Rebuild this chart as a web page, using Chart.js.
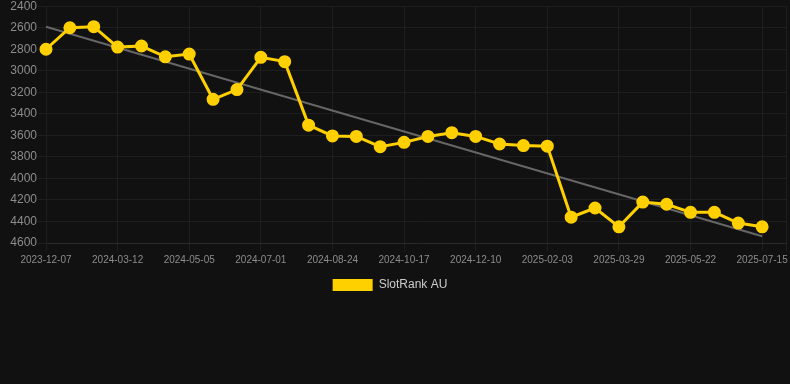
<!DOCTYPE html>
<html>
<head>
<meta charset="utf-8">
<script src="https://cdn.jsdelivr.net/npm/chart.js@4.4.0/dist/chart.umd.min.js"></script>
<style>
    body { margin: 0; background: #111111; overflow: hidden; }
    .chart-box { width: 794px; height: 303px; margin-top: -2px; }
</style>
</head>
<body>
<div class="chart-box"><canvas id="rankChart"></canvas></div>
<script>
const dates = [
    '2023-12-07', '2024-01-08', '2024-02-09', '2024-03-12', '2024-03-30', '2024-04-17',
    '2024-05-05', '2024-05-24', '2024-06-12', '2024-07-01', '2024-07-19', '2024-08-06',
    '2024-08-24', '2024-09-11', '2024-09-29', '2024-10-17', '2024-11-04', '2024-11-22',
    '2024-12-10', '2024-12-28', '2025-01-16', '2025-02-03', '2025-02-21', '2025-03-11',
    '2025-03-29', '2025-04-16', '2025-05-04', '2025-05-22', '2025-06-09', '2025-06-27',
    '2025-07-15', '2025-08-02'
];

const rankAU = [
    2800, 2600, 2590, 2780, 2770, 2870, 2845, 3265, 3175, 2875, 2915,
    3505, 3605, 3610, 3705, 3665, 3610, 3575, 3610, 3680, 3695, 3700,
    4360, 4275, 4450, 4220, 4240, 4315, 4315, 4415, 4450, null
];

const yTicks = { min: 2400, max: 4600, step: 200 };

// least squares trend over the known points
function trendLine(values) {
    const pts = values.map((v, i) => [i, v]).filter(p => p[1] !== null);
    const n = pts.length;
    let sx = 0, sy = 0, sxy = 0, sxx = 0;
    pts.forEach(([x, y]) => { sx += x; sy += y; sxy += x * y; sxx += x * x; });
    const slope = (n * sxy - sx * sy) / (n * sxx - sx * sx);
    const icpt = (sy - slope * sx) / n;
    const last = pts[n - 1][0];
    return values.map((v, i) => (i === 0 || i === last) ? icpt + slope * i : null);
}

const fontFam = 'Arial, "Liberation Sans", sans-serif';
const gridCol = '#1e1e1e';
const lastIdx = dates.length - 1;

// nudge the legend a little left so it sits where the original one does
const legendShift = {
    id: 'legendShift',
    afterLayout(chart) {
        chart.legend.left -= 7;
        chart.legend.right -= 7;
    }
};

const ctx = document.getElementById('rankChart').getContext('2d');
new Chart(ctx, {
    type: 'line',
    data: {
        labels: dates,
        datasets: [{
            label: 'SlotRank AU',
            data: rankAU,
            borderColor: '#FFD000',
            backgroundColor: '#FFD000',
            borderWidth: 3,
            pointRadius: 5,
            pointHoverRadius: 5,
            tension: 0
        }, {
            label: 'trend',
            data: trendLine(rankAU),
            borderColor: '#666666',
            borderWidth: 2,
            pointRadius: 0,
            spanGaps: true
        }]
    },
    options: {
        responsive: true,
        maintainAspectRatio: false,
        animation: false,
        scales: {
            x: {
                grid: {
                    color: c => c.index === lastIdx ? 'rgba(0,0,0,0)' : gridCol,
                    tickColor: c => c.index === lastIdx ? 'rgba(0,0,0,0)' : gridCol
                },
                border: { color: '#2a2a2a' },
                ticks: {
                    color: '#8c8c8c',
                    font: { size: 10, family: fontFam },
                    autoSkip: false,
                    maxRotation: 0,
                    callback: function (val, i) {
                        if (i === lastIdx) return '';
                        return i % 3 === 0 ? dates[i] : null;
                    }
                }
            },
            y: {
                reverse: true,
                min: yTicks.min,
                max: yTicks.max,
                afterFit: scale => { scale.width = 46; },
                grid: { color: gridCol, tickColor: gridCol },
                border: { color: gridCol },
                ticks: {
                    stepSize: yTicks.step,
                    padding: 1,
                    color: '#8c8c8c',
                    font: { size: 12, family: fontFam },
                    callback: val => String(val)
                }
            }
        },
        plugins: {
            legend: {
                position: 'bottom',
                labels: {
                    color: '#cccccc',
                    boxWidth: 40,
                    boxHeight: 12,
                    font: { size: 12, family: fontFam },
                    filter: item => item.text !== 'trend',
                    generateLabels: chart => Chart.defaults.plugins.legend.labels.generateLabels(chart)
                        .map(item => Object.assign(item, { lineWidth: 0 }))
                }
            },
            tooltip: { enabled: false }
        }
    },
    plugins: [legendShift]
});
</script>
</body>
</html>
